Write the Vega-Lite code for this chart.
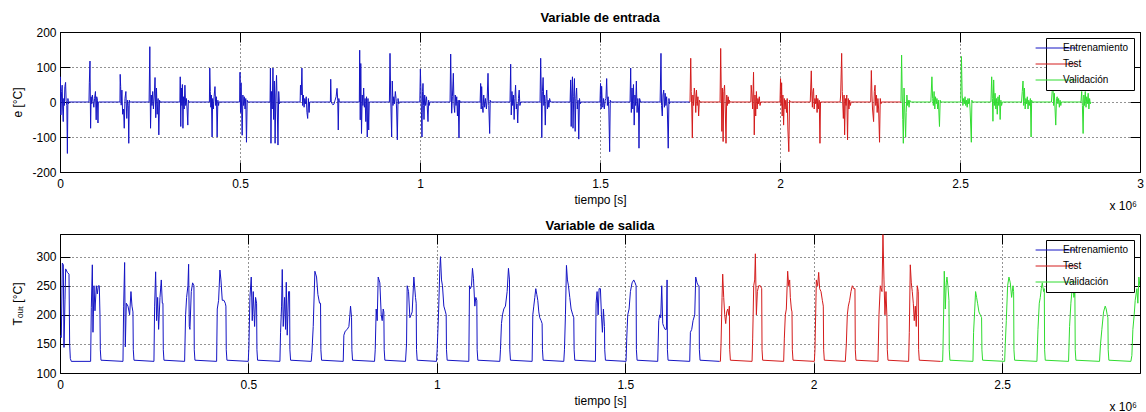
{
"$schema": "https://vega.github.io/schema/vega-lite/v6.json",
"background": "white",
"padding": {"left": 10, "top": 11, "right": 0, "bottom": 0},
"spacing": 62,
"bounds": "flush",
"resolve": {"scale": {"color": "independent"}, "legend": {"color": "independent"}},
"config": {
 "font": "Liberation Sans",
 "view": {"stroke": "#000", "strokeWidth": 1},
 "axis": {"labelFont": "Liberation Sans", "labelFontSize": 12, "labelColor": "#000", "titleFont": "Liberation Sans", "titleFontSize": 12, "titleFontWeight": "normal", "titleColor": "#000", "tickColor": "#000", "tickSize": -10, "tickWidth": 1, "domain": false, "gridColor": "#000", "gridDash": [1, 3], "gridOpacity": 0.85, "gridWidth": 1, "labelFlush": false, "labelOverlap": false, "labelPadding": 14},
 "axisX": {"titlePadding": 5, "labelPadding": 16},
 "axisY": {"titlePadding": 8, "minExtent": 28, "maxExtent": 28},
 "title": {"font": "Liberation Sans", "fontSize": 13, "fontWeight": "bold", "color": "#000", "offset": 1, "anchor": "middle"},
 "legend": {"orient": "top-right", "offset": 6, "strokeColor": "#000", "fillColor": "#fff", "padding": 5, "symbolType": "M-8,0H8", "symbolSize": 26, "symbolStrokeWidth": 1, "symbolOffset": 0, "labelFont": "Liberation Sans", "labelFontSize": 10, "labelColor": "#000", "labelOffset": 2, "rowPadding": 6, "cornerRadius": 0}
},
"datasets": {
"entrada": [
{"t":0,"v":0,"s":"Entrenamiento"},{"t":1000,"v":72,"s":"Entrenamiento"},{"t":2500,"v":-37,"s":"Entrenamiento"},{"t":4500,"v":30,"s":"Entrenamiento"},{"t":6000,"v":48,"s":"Entrenamiento"},{"t":7500,"v":-20,"s":"Entrenamiento"},{"t":9000,"v":-56,"s":"Entrenamiento"},{"t":10500,"v":10,"s":"Entrenamiento"},{"t":12000,"v":-10,"s":"Entrenamiento"},{"t":13500,"v":44,"s":"Entrenamiento"},{"t":15500,"v":56,"s":"Entrenamiento"},{"t":17000,"v":5,"s":"Entrenamiento"},{"t":19000,"v":-10,"s":"Entrenamiento"},{"t":20500,"v":-147,"s":"Entrenamiento"},{"t":22000,"v":10,"s":"Entrenamiento"},{"t":23500,"v":-5,"s":"Entrenamiento"},{"t":25000,"v":0,"s":"Entrenamiento"},
{"t":80500,"v":0,"s":"Entrenamiento"},{"t":81500,"v":55,"s":"Entrenamiento"},{"t":83300,"v":117,"s":"Entrenamiento"},{"t":85000,"v":-75,"s":"Entrenamiento"},{"t":86500,"v":15,"s":"Entrenamiento"},{"t":88000,"v":-5,"s":"Entrenamiento"},{"t":90000,"v":20,"s":"Entrenamiento"},{"t":92000,"v":0,"s":"Entrenamiento"},{"t":94000,"v":-15,"s":"Entrenamiento"},{"t":96000,"v":10,"s":"Entrenamiento"},{"t":98500,"v":30,"s":"Entrenamiento"},{"t":100500,"v":-51,"s":"Entrenamiento"},{"t":102000,"v":15,"s":"Entrenamiento"},{"t":104000,"v":5,"s":"Entrenamiento"},{"t":105500,"v":-60,"s":"Entrenamiento"},{"t":106500,"v":0,"s":"Entrenamiento"},
{"t":166500,"v":0,"s":"Entrenamiento"},{"t":167200,"v":79,"s":"Entrenamiento"},{"t":168500,"v":44,"s":"Entrenamiento"},{"t":170000,"v":-9,"s":"Entrenamiento"},{"t":172000,"v":34,"s":"Entrenamiento"},{"t":174000,"v":-35,"s":"Entrenamiento"},{"t":176500,"v":-20,"s":"Entrenamiento"},{"t":178500,"v":-75,"s":"Entrenamiento"},{"t":180500,"v":10,"s":"Entrenamiento"},{"t":183000,"v":30,"s":"Entrenamiento"},{"t":185500,"v":-47,"s":"Entrenamiento"},{"t":187500,"v":5,"s":"Entrenamiento"},{"t":189500,"v":-10,"s":"Entrenamiento"},{"t":191000,"v":-118,"s":"Entrenamiento"},{"t":192500,"v":5,"s":"Entrenamiento"},{"t":193500,"v":0,"s":"Entrenamiento"},
{"t":247500,"v":0,"s":"Entrenamiento"},{"t":249500,"v":158,"s":"Entrenamiento"},{"t":251500,"v":-75,"s":"Entrenamiento"},{"t":253500,"v":20,"s":"Entrenamiento"},{"t":255500,"v":-10,"s":"Entrenamiento"},{"t":257500,"v":30,"s":"Entrenamiento"},{"t":259500,"v":-20,"s":"Entrenamiento"},{"t":262000,"v":20,"s":"Entrenamiento"},{"t":264000,"v":70,"s":"Entrenamiento"},{"t":266000,"v":-45,"s":"Entrenamiento"},{"t":268000,"v":40,"s":"Entrenamiento"},{"t":270000,"v":-35,"s":"Entrenamiento"},{"t":272500,"v":10,"s":"Entrenamiento"},{"t":274500,"v":-94,"s":"Entrenamiento"},{"t":276500,"v":5,"s":"Entrenamiento"},{"t":278000,"v":0,"s":"Entrenamiento"},
{"t":333000,"v":0,"s":"Entrenamiento"},{"t":334000,"v":72,"s":"Entrenamiento"},{"t":335500,"v":-70,"s":"Entrenamiento"},{"t":337000,"v":40,"s":"Entrenamiento"},{"t":338500,"v":-10,"s":"Entrenamiento"},{"t":340000,"v":50,"s":"Entrenamiento"},{"t":341500,"v":-75,"s":"Entrenamiento"},{"t":343000,"v":15,"s":"Entrenamiento"},{"t":345000,"v":-20,"s":"Entrenamiento"},{"t":347000,"v":48,"s":"Entrenamiento"},{"t":349000,"v":-10,"s":"Entrenamiento"},{"t":351000,"v":10,"s":"Entrenamiento"},{"t":353000,"v":-20,"s":"Entrenamiento"},{"t":355000,"v":-66,"s":"Entrenamiento"},{"t":356500,"v":5,"s":"Entrenamiento"},{"t":358000,"v":0,"s":"Entrenamiento"},
{"t":415000,"v":0,"s":"Entrenamiento"},{"t":416000,"v":97,"s":"Entrenamiento"},{"t":417500,"v":30,"s":"Entrenamiento"},{"t":419000,"v":-15,"s":"Entrenamiento"},{"t":420500,"v":20,"s":"Entrenamiento"},{"t":422500,"v":-100,"s":"Entrenamiento"},{"t":424000,"v":10,"s":"Entrenamiento"},{"t":426000,"v":-20,"s":"Entrenamiento"},{"t":428000,"v":15,"s":"Entrenamiento"},{"t":430500,"v":44,"s":"Entrenamiento"},{"t":432500,"v":-10,"s":"Entrenamiento"},{"t":434500,"v":15,"s":"Entrenamiento"},{"t":436500,"v":-100,"s":"Entrenamiento"},{"t":438500,"v":5,"s":"Entrenamiento"},{"t":440500,"v":-10,"s":"Entrenamiento"},{"t":441700,"v":0,"s":"Entrenamiento"},
{"t":499000,"v":0,"s":"Entrenamiento"},{"t":500000,"v":85,"s":"Entrenamiento"},{"t":501500,"v":-30,"s":"Entrenamiento"},{"t":503000,"v":55,"s":"Entrenamiento"},{"t":504500,"v":-20,"s":"Entrenamiento"},{"t":506000,"v":-95,"s":"Entrenamiento"},{"t":508000,"v":20,"s":"Entrenamiento"},{"t":510000,"v":-10,"s":"Entrenamiento"},{"t":512000,"v":15,"s":"Entrenamiento"},{"t":514000,"v":-20,"s":"Entrenamiento"},{"t":516000,"v":10,"s":"Entrenamiento"},{"t":518000,"v":-115,"s":"Entrenamiento"},{"t":520000,"v":5,"s":"Entrenamiento"},{"t":521500,"v":0,"s":"Entrenamiento"},
{"t":583500,"v":0,"s":"Entrenamiento"},{"t":584500,"v":97,"s":"Entrenamiento"},{"t":586000,"v":-118,"s":"Entrenamiento"},{"t":587500,"v":30,"s":"Entrenamiento"},{"t":589500,"v":-20,"s":"Entrenamiento"},{"t":591500,"v":97,"s":"Entrenamiento"},{"t":593500,"v":-50,"s":"Entrenamiento"},{"t":595500,"v":60,"s":"Entrenamiento"},{"t":597500,"v":-118,"s":"Entrenamiento"},{"t":599500,"v":20,"s":"Entrenamiento"},{"t":601500,"v":76,"s":"Entrenamiento"},{"t":603500,"v":-20,"s":"Entrenamiento"},{"t":605500,"v":-123,"s":"Entrenamiento"},{"t":607500,"v":30,"s":"Entrenamiento"},{"t":609500,"v":-5,"s":"Entrenamiento"},{"t":611000,"v":0,"s":"Entrenamiento"},
{"t":667000,"v":0,"s":"Entrenamiento"},{"t":668000,"v":48,"s":"Entrenamiento"},{"t":670000,"v":20,"s":"Entrenamiento"},{"t":672000,"v":97,"s":"Entrenamiento"},{"t":674000,"v":-10,"s":"Entrenamiento"},{"t":676000,"v":20,"s":"Entrenamiento"},{"t":678000,"v":-15,"s":"Entrenamiento"},{"t":680000,"v":10,"s":"Entrenamiento"},{"t":682000,"v":-5,"s":"Entrenamiento"},{"t":684000,"v":15,"s":"Entrenamiento"},{"t":686000,"v":-30,"s":"Entrenamiento"},{"t":688000,"v":-47,"s":"Entrenamiento"},{"t":690000,"v":10,"s":"Entrenamiento"},{"t":692000,"v":-30,"s":"Entrenamiento"},{"t":693500,"v":0,"s":"Entrenamiento"},
{"t":751000,"v":0,"s":"Entrenamiento"},{"t":752000,"v":65,"s":"Entrenamiento"},{"t":753500,"v":0,"s":"Entrenamiento"},{"t":755500,"v":-4,"s":"Entrenamiento"},{"t":758000,"v":-8,"s":"Entrenamiento"},{"t":761000,"v":-6,"s":"Entrenamiento"},{"t":764000,"v":5,"s":"Entrenamiento"},{"t":767000,"v":15,"s":"Entrenamiento"},{"t":769500,"v":39,"s":"Entrenamiento"},{"t":771500,"v":5,"s":"Entrenamiento"},{"t":773000,"v":-80,"s":"Entrenamiento"},{"t":774500,"v":10,"s":"Entrenamiento"},{"t":775500,"v":0,"s":"Entrenamiento"},
{"t":831500,"v":0,"s":"Entrenamiento"},{"t":832500,"v":148,"s":"Entrenamiento"},{"t":834000,"v":-51,"s":"Entrenamiento"},{"t":835500,"v":110,"s":"Entrenamiento"},{"t":837500,"v":-90,"s":"Entrenamiento"},{"t":839500,"v":20,"s":"Entrenamiento"},{"t":841500,"v":-10,"s":"Entrenamiento"},{"t":843500,"v":40,"s":"Entrenamiento"},{"t":845500,"v":-15,"s":"Entrenamiento"},{"t":847500,"v":10,"s":"Entrenamiento"},{"t":849500,"v":-56,"s":"Entrenamiento"},{"t":851500,"v":15,"s":"Entrenamiento"},{"t":853500,"v":-100,"s":"Entrenamiento"},{"t":855500,"v":10,"s":"Entrenamiento"},{"t":857500,"v":-80,"s":"Entrenamiento"},{"t":859000,"v":0,"s":"Entrenamiento"},
{"t":915000,"v":0,"s":"Entrenamiento"},{"t":916700,"v":139,"s":"Entrenamiento"},{"t":918500,"v":20,"s":"Entrenamiento"},{"t":921300,"v":-100,"s":"Entrenamiento"},{"t":923000,"v":60,"s":"Entrenamiento"},{"t":925000,"v":-10,"s":"Entrenamiento"},{"t":927000,"v":15,"s":"Entrenamiento"},{"t":929000,"v":-5,"s":"Entrenamiento"},{"t":931500,"v":30,"s":"Entrenamiento"},{"t":933500,"v":10,"s":"Entrenamiento"},{"t":935000,"v":-20,"s":"Entrenamiento"},{"t":937000,"v":-108,"s":"Entrenamiento"},{"t":939000,"v":10,"s":"Entrenamiento"},{"t":941000,"v":-5,"s":"Entrenamiento"},{"t":942500,"v":0,"s":"Entrenamiento"},
{"t":999500,"v":0,"s":"Entrenamiento"},{"t":1001000,"v":94,"s":"Entrenamiento"},{"t":1002500,"v":40,"s":"Entrenamiento"},{"t":1004000,"v":-30,"s":"Entrenamiento"},{"t":1005500,"v":-100,"s":"Entrenamiento"},{"t":1007000,"v":30,"s":"Entrenamiento"},{"t":1008300,"v":53,"s":"Entrenamiento"},{"t":1010000,"v":-10,"s":"Entrenamiento"},{"t":1011100,"v":-50,"s":"Entrenamiento"},{"t":1013000,"v":20,"s":"Entrenamiento"},{"t":1015700,"v":-10,"s":"Entrenamiento"},{"t":1018000,"v":15,"s":"Entrenamiento"},{"t":1020000,"v":-10,"s":"Entrenamiento"},{"t":1022200,"v":-56,"s":"Entrenamiento"},{"t":1024000,"v":5,"s":"Entrenamiento"},{"t":1025500,"v":-10,"s":"Entrenamiento"},{"t":1027500,"v":0,"s":"Entrenamiento"},
{"t":1083500,"v":0,"s":"Entrenamiento"},{"t":1085200,"v":137,"s":"Entrenamiento"},{"t":1087000,"v":20,"s":"Entrenamiento"},{"t":1088000,"v":-32,"s":"Entrenamiento"},{"t":1090000,"v":15,"s":"Entrenamiento"},{"t":1092600,"v":82,"s":"Entrenamiento"},{"t":1094500,"v":-10,"s":"Entrenamiento"},{"t":1096300,"v":-30,"s":"Entrenamiento"},{"t":1098000,"v":20,"s":"Entrenamiento"},{"t":1100000,"v":-10,"s":"Entrenamiento"},{"t":1102000,"v":15,"s":"Entrenamiento"},{"t":1104000,"v":-40,"s":"Entrenamiento"},{"t":1106000,"v":5,"s":"Entrenamiento"},{"t":1108300,"v":-103,"s":"Entrenamiento"},{"t":1110000,"v":5,"s":"Entrenamiento"},{"t":1111000,"v":0,"s":"Entrenamiento"},
{"t":1167000,"v":0,"s":"Entrenamiento"},{"t":1168500,"v":53,"s":"Entrenamiento"},{"t":1170000,"v":-20,"s":"Entrenamiento"},{"t":1171300,"v":44,"s":"Entrenamiento"},{"t":1173000,"v":-10,"s":"Entrenamiento"},{"t":1175000,"v":-30,"s":"Entrenamiento"},{"t":1177000,"v":20,"s":"Entrenamiento"},{"t":1179600,"v":-15,"s":"Entrenamiento"},{"t":1182000,"v":10,"s":"Entrenamiento"},{"t":1184500,"v":-20,"s":"Entrenamiento"},{"t":1186500,"v":5,"s":"Entrenamiento"},{"t":1188900,"v":82,"s":"Entrenamiento"},{"t":1191000,"v":-10,"s":"Entrenamiento"},{"t":1193500,"v":-90,"s":"Entrenamiento"},{"t":1195000,"v":5,"s":"Entrenamiento"},{"t":1196500,"v":0,"s":"Entrenamiento"},
{"t":1250000,"v":0,"s":"Entrenamiento"},{"t":1251900,"v":108,"s":"Entrenamiento"},{"t":1253500,"v":-37,"s":"Entrenamiento"},{"t":1255500,"v":30,"s":"Entrenamiento"},{"t":1257500,"v":-10,"s":"Entrenamiento"},{"t":1259500,"v":20,"s":"Entrenamiento"},{"t":1261500,"v":-50,"s":"Entrenamiento"},{"t":1263500,"v":10,"s":"Entrenamiento"},{"t":1265500,"v":48,"s":"Entrenamiento"},{"t":1267500,"v":-20,"s":"Entrenamiento"},{"t":1269500,"v":-5,"s":"Entrenamiento"},{"t":1271500,"v":-60,"s":"Entrenamiento"},{"t":1273500,"v":10,"s":"Entrenamiento"},{"t":1275500,"v":34,"s":"Entrenamiento"},{"t":1277500,"v":-10,"s":"Entrenamiento"},{"t":1279500,"v":0,"s":"Entrenamiento"},
{"t":1333500,"v":0,"s":"Entrenamiento"},{"t":1335200,"v":125,"s":"Entrenamiento"},{"t":1337000,"v":20,"s":"Entrenamiento"},{"t":1338300,"v":-102,"s":"Entrenamiento"},{"t":1340000,"v":30,"s":"Entrenamiento"},{"t":1342000,"v":70,"s":"Entrenamiento"},{"t":1344000,"v":-10,"s":"Entrenamiento"},{"t":1346000,"v":20,"s":"Entrenamiento"},{"t":1348000,"v":-66,"s":"Entrenamiento"},{"t":1350000,"v":10,"s":"Entrenamiento"},{"t":1352000,"v":34,"s":"Entrenamiento"},{"t":1354000,"v":-20,"s":"Entrenamiento"},{"t":1356000,"v":5,"s":"Entrenamiento"},{"t":1358000,"v":-15,"s":"Entrenamiento"},{"t":1360000,"v":10,"s":"Entrenamiento"},{"t":1362500,"v":0,"s":"Entrenamiento"},
{"t":1417000,"v":0,"s":"Entrenamiento"},{"t":1418500,"v":63,"s":"Entrenamiento"},{"t":1420000,"v":-70,"s":"Entrenamiento"},{"t":1421500,"v":20,"s":"Entrenamiento"},{"t":1423500,"v":72,"s":"Entrenamiento"},{"t":1425000,"v":-75,"s":"Entrenamiento"},{"t":1427000,"v":15,"s":"Entrenamiento"},{"t":1429000,"v":67,"s":"Entrenamiento"},{"t":1431000,"v":-84,"s":"Entrenamiento"},{"t":1433000,"v":10,"s":"Entrenamiento"},{"t":1435000,"v":40,"s":"Entrenamiento"},{"t":1437000,"v":-20,"s":"Entrenamiento"},{"t":1439000,"v":5,"s":"Entrenamiento"},{"t":1441000,"v":-106,"s":"Entrenamiento"},{"t":1443000,"v":10,"s":"Entrenamiento"},{"t":1445000,"v":-5,"s":"Entrenamiento"},{"t":1446500,"v":0,"s":"Entrenamiento"},
{"t":1500000,"v":0,"s":"Entrenamiento"},{"t":1501500,"v":53,"s":"Entrenamiento"},{"t":1503000,"v":-20,"s":"Entrenamiento"},{"t":1504600,"v":45,"s":"Entrenamiento"},{"t":1506500,"v":-10,"s":"Entrenamiento"},{"t":1508000,"v":-15,"s":"Entrenamiento"},{"t":1510000,"v":10,"s":"Entrenamiento"},{"t":1512000,"v":-20,"s":"Entrenamiento"},{"t":1514500,"v":5,"s":"Entrenamiento"},{"t":1516500,"v":10,"s":"Entrenamiento"},{"t":1518500,"v":67,"s":"Entrenamiento"},{"t":1520500,"v":-10,"s":"Entrenamiento"},{"t":1522500,"v":15,"s":"Entrenamiento"},{"t":1524500,"v":-20,"s":"Entrenamiento"},{"t":1526800,"v":-142,"s":"Entrenamiento"},{"t":1528500,"v":5,"s":"Entrenamiento"},{"t":1530000,"v":0,"s":"Entrenamiento"},
{"t":1583500,"v":0,"s":"Entrenamiento"},{"t":1585200,"v":97,"s":"Entrenamiento"},{"t":1587000,"v":-30,"s":"Entrenamiento"},{"t":1589000,"v":40,"s":"Entrenamiento"},{"t":1591000,"v":-20,"s":"Entrenamiento"},{"t":1593000,"v":50,"s":"Entrenamiento"},{"t":1595000,"v":-66,"s":"Entrenamiento"},{"t":1597000,"v":20,"s":"Entrenamiento"},{"t":1599000,"v":-10,"s":"Entrenamiento"},{"t":1601000,"v":60,"s":"Entrenamiento"},{"t":1603000,"v":-30,"s":"Entrenamiento"},{"t":1605000,"v":10,"s":"Entrenamiento"},{"t":1607000,"v":-20,"s":"Entrenamiento"},{"t":1608300,"v":-132,"s":"Entrenamiento"},{"t":1610000,"v":10,"s":"Entrenamiento"},{"t":1612500,"v":0,"s":"Entrenamiento"},
{"t":1667000,"v":0,"s":"Entrenamiento"},{"t":1669400,"v":139,"s":"Entrenamiento"},{"t":1671000,"v":-10,"s":"Entrenamiento"},{"t":1673000,"v":-40,"s":"Entrenamiento"},{"t":1675000,"v":20,"s":"Entrenamiento"},{"t":1677000,"v":34,"s":"Entrenamiento"},{"t":1679000,"v":-15,"s":"Entrenamiento"},{"t":1681000,"v":25,"s":"Entrenamiento"},{"t":1683000,"v":-10,"s":"Entrenamiento"},{"t":1685000,"v":15,"s":"Entrenamiento"},{"t":1687000,"v":-20,"s":"Entrenamiento"},{"t":1689500,"v":-132,"s":"Entrenamiento"},{"t":1691500,"v":10,"s":"Entrenamiento"},{"t":1693000,"v":-5,"s":"Entrenamiento"},{"t":1694500,"v":0,"s":"Entrenamiento"},{"t":1750000,"v":0,"s":"Entrenamiento"},
{"t":1750000,"v":0,"s":"Test"},{"t":1752000,"v":125,"s":"Test"},{"t":1753500,"v":30,"s":"Test"},{"t":1755000,"v":-20,"s":"Test"},{"t":1756500,"v":-103,"s":"Test"},{"t":1758000,"v":20,"s":"Test"},{"t":1760000,"v":-10,"s":"Test"},{"t":1762000,"v":40,"s":"Test"},{"t":1764000,"v":20,"s":"Test"},{"t":1766000,"v":-30,"s":"Test"},{"t":1768000,"v":34,"s":"Test"},{"t":1770000,"v":-10,"s":"Test"},{"t":1772000,"v":15,"s":"Test"},{"t":1774000,"v":-40,"s":"Test"},{"t":1776000,"v":5,"s":"Test"},{"t":1777800,"v":0,"s":"Test"},
{"t":1833500,"v":0,"s":"Test"},{"t":1835200,"v":153,"s":"Test"},{"t":1837000,"v":20,"s":"Test"},{"t":1838500,"v":-84,"s":"Test"},{"t":1840000,"v":40,"s":"Test"},{"t":1842000,"v":-113,"s":"Test"},{"t":1844000,"v":30,"s":"Test"},{"t":1846000,"v":48,"s":"Test"},{"t":1848000,"v":-20,"s":"Test"},{"t":1850000,"v":-118,"s":"Test"},{"t":1852000,"v":20,"s":"Test"},{"t":1854000,"v":-10,"s":"Test"},{"t":1856000,"v":15,"s":"Test"},{"t":1858000,"v":-5,"s":"Test"},{"t":1859500,"v":5,"s":"Test"},{"t":1861000,"v":0,"s":"Test"},
{"t":1919000,"v":0,"s":"Test"},{"t":1920000,"v":48,"s":"Test"},{"t":1922000,"v":20,"s":"Test"},{"t":1924000,"v":-20,"s":"Test"},{"t":1926500,"v":85,"s":"Test"},{"t":1928500,"v":-94,"s":"Test"},{"t":1930500,"v":20,"s":"Test"},{"t":1932500,"v":-40,"s":"Test"},{"t":1934500,"v":30,"s":"Test"},{"t":1936500,"v":-20,"s":"Test"},{"t":1938500,"v":10,"s":"Test"},{"t":1940500,"v":-5,"s":"Test"},{"t":1942500,"v":15,"s":"Test"},{"t":1944500,"v":-10,"s":"Test"},{"t":1946300,"v":0,"s":"Test"},
{"t":2000000,"v":0,"s":"Test"},{"t":2001500,"v":67,"s":"Test"},{"t":2003000,"v":-10,"s":"Test"},{"t":2004500,"v":55,"s":"Test"},{"t":2006000,"v":-40,"s":"Test"},{"t":2008000,"v":20,"s":"Test"},{"t":2010000,"v":-66,"s":"Test"},{"t":2012000,"v":10,"s":"Test"},{"t":2014000,"v":-20,"s":"Test"},{"t":2016000,"v":5,"s":"Test"},{"t":2018000,"v":-30,"s":"Test"},{"t":2020000,"v":10,"s":"Test"},{"t":2022000,"v":-80,"s":"Test"},{"t":2024500,"v":-142,"s":"Test"},{"t":2026500,"v":5,"s":"Test"},{"t":2028500,"v":0,"s":"Test"},
{"t":2084000,"v":0,"s":"Test"},{"t":2086900,"v":89,"s":"Test"},{"t":2088500,"v":20,"s":"Test"},{"t":2090000,"v":-15,"s":"Test"},{"t":2091500,"v":30,"s":"Test"},{"t":2093200,"v":39,"s":"Test"},{"t":2095000,"v":-20,"s":"Test"},{"t":2097000,"v":10,"s":"Test"},{"t":2099000,"v":-5,"s":"Test"},{"t":2101000,"v":20,"s":"Test"},{"t":2103000,"v":-30,"s":"Test"},{"t":2105000,"v":10,"s":"Test"},{"t":2107000,"v":-20,"s":"Test"},{"t":2109000,"v":5,"s":"Test"},{"t":2111000,"v":-118,"s":"Test"},{"t":2112500,"v":0,"s":"Test"},
{"t":2167000,"v":0,"s":"Test"},{"t":2168500,"v":20,"s":"Test"},{"t":2171300,"v":139,"s":"Test"},{"t":2173000,"v":30,"s":"Test"},{"t":2176000,"v":-47,"s":"Test"},{"t":2178000,"v":20,"s":"Test"},{"t":2179500,"v":-94,"s":"Test"},{"t":2181500,"v":10,"s":"Test"},{"t":2183500,"v":-10,"s":"Test"},{"t":2185500,"v":20,"s":"Test"},{"t":2187600,"v":-108,"s":"Test"},{"t":2189500,"v":10,"s":"Test"},{"t":2191500,"v":-20,"s":"Test"},{"t":2193500,"v":5,"s":"Test"},{"t":2195500,"v":-10,"s":"Test"},{"t":2197500,"v":0,"s":"Test"},
{"t":2252000,"v":0,"s":"Test"},{"t":2253700,"v":90,"s":"Test"},{"t":2255500,"v":20,"s":"Test"},{"t":2257000,"v":-20,"s":"Test"},{"t":2260000,"v":-56,"s":"Test"},{"t":2262000,"v":30,"s":"Test"},{"t":2264000,"v":48,"s":"Test"},{"t":2266000,"v":-10,"s":"Test"},{"t":2268000,"v":20,"s":"Test"},{"t":2270000,"v":-30,"s":"Test"},{"t":2272000,"v":10,"s":"Test"},{"t":2274000,"v":-20,"s":"Test"},{"t":2276500,"v":-115,"s":"Test"},{"t":2278500,"v":10,"s":"Test"},{"t":2280500,"v":-5,"s":"Test"},{"t":2281800,"v":0,"s":"Test"},{"t":2336000,"v":0,"s":"Test"},
{"t":2336000,"v":0,"s":"Validación"},{"t":2337800,"v":134,"s":"Validación"},{"t":2339500,"v":20,"s":"Validación"},{"t":2341000,"v":-50,"s":"Validación"},{"t":2342600,"v":-118,"s":"Validación"},{"t":2344500,"v":40,"s":"Validación"},{"t":2346500,"v":-20,"s":"Validación"},{"t":2349000,"v":-100,"s":"Validación"},{"t":2350500,"v":-30,"s":"Validación"},{"t":2352500,"v":20,"s":"Validación"},{"t":2354500,"v":-10,"s":"Validación"},{"t":2356500,"v":5,"s":"Validación"},{"t":2358500,"v":-15,"s":"Validación"},{"t":2360500,"v":5,"s":"Validación"},{"t":2362500,"v":0,"s":"Validación"},
{"t":2419000,"v":0,"s":"Validación"},{"t":2422000,"v":72,"s":"Validación"},{"t":2424000,"v":10,"s":"Validación"},{"t":2426000,"v":-10,"s":"Validación"},{"t":2428000,"v":30,"s":"Validación"},{"t":2430000,"v":-20,"s":"Validación"},{"t":2432000,"v":15,"s":"Validación"},{"t":2434000,"v":-5,"s":"Validación"},{"t":2436000,"v":10,"s":"Validación"},{"t":2438000,"v":-20,"s":"Validación"},{"t":2440000,"v":5,"s":"Validación"},{"t":2443000,"v":-70,"s":"Validación"},{"t":2445000,"v":5,"s":"Validación"},{"t":2446500,"v":0,"s":"Validación"},
{"t":2502000,"v":0,"s":"Validación"},{"t":2504000,"v":130,"s":"Validación"},{"t":2506000,"v":20,"s":"Validación"},{"t":2508000,"v":-10,"s":"Validación"},{"t":2510000,"v":10,"s":"Validación"},{"t":2512000,"v":-5,"s":"Validación"},{"t":2514000,"v":15,"s":"Validación"},{"t":2516000,"v":-10,"s":"Validación"},{"t":2518000,"v":5,"s":"Validación"},{"t":2520000,"v":-15,"s":"Validación"},{"t":2522000,"v":10,"s":"Validación"},{"t":2524000,"v":-5,"s":"Validación"},{"t":2526000,"v":10,"s":"Validación"},{"t":2528000,"v":-20,"s":"Validación"},{"t":2531500,"v":-115,"s":"Validación"},{"t":2533000,"v":5,"s":"Validación"},{"t":2534500,"v":0,"s":"Validación"},
{"t":2586000,"v":0,"s":"Validación"},{"t":2588000,"v":72,"s":"Validación"},{"t":2590000,"v":10,"s":"Validación"},{"t":2591500,"v":-55,"s":"Validación"},{"t":2593500,"v":63,"s":"Validación"},{"t":2595500,"v":-10,"s":"Validación"},{"t":2597500,"v":25,"s":"Validación"},{"t":2599500,"v":-20,"s":"Validación"},{"t":2601500,"v":10,"s":"Validación"},{"t":2603500,"v":-35,"s":"Validación"},{"t":2605500,"v":15,"s":"Validación"},{"t":2607500,"v":-10,"s":"Validación"},{"t":2609500,"v":20,"s":"Validación"},{"t":2611500,"v":-50,"s":"Validación"},{"t":2613500,"v":5,"s":"Validación"},{"t":2615500,"v":-10,"s":"Validación"},{"t":2617500,"v":0,"s":"Validación"},
{"t":2671000,"v":0,"s":"Validación"},{"t":2673000,"v":30,"s":"Validación"},{"t":2675000,"v":60,"s":"Validación"},{"t":2677000,"v":-10,"s":"Validación"},{"t":2679000,"v":40,"s":"Validación"},{"t":2681000,"v":-20,"s":"Validación"},{"t":2683000,"v":10,"s":"Validación"},{"t":2685000,"v":-5,"s":"Validación"},{"t":2687000,"v":15,"s":"Validación"},{"t":2689000,"v":-20,"s":"Validación"},{"t":2691000,"v":5,"s":"Validación"},{"t":2693500,"v":-10,"s":"Validación"},{"t":2695500,"v":10,"s":"Validación"},{"t":2697500,"v":-100,"s":"Validación"},{"t":2699000,"v":5,"s":"Validación"},{"t":2700500,"v":0,"s":"Validación"},
{"t":2754000,"v":0,"s":"Validación"},{"t":2756000,"v":30,"s":"Validación"},{"t":2758000,"v":55,"s":"Validación"},{"t":2760000,"v":-10,"s":"Validación"},{"t":2762000,"v":25,"s":"Validación"},{"t":2764000,"v":-20,"s":"Validación"},{"t":2766000,"v":-66,"s":"Validación"},{"t":2768000,"v":10,"s":"Validación"},{"t":2770000,"v":15,"s":"Validación"},{"t":2772000,"v":-5,"s":"Validación"},{"t":2774000,"v":10,"s":"Validación"},{"t":2776000,"v":-15,"s":"Validación"},{"t":2778000,"v":5,"s":"Validación"},{"t":2780000,"v":-10,"s":"Validación"},{"t":2781500,"v":0,"s":"Validación"},
{"t":2836000,"v":0,"s":"Validación"},{"t":2838000,"v":30,"s":"Validación"},{"t":2840000,"v":-10,"s":"Validación"},{"t":2842000,"v":-90,"s":"Validación"},{"t":2844000,"v":20,"s":"Validación"},{"t":2846000,"v":-10,"s":"Validación"},{"t":2848000,"v":30,"s":"Validación"},{"t":2850000,"v":-15,"s":"Validación"},{"t":2852000,"v":15,"s":"Validación"},{"t":2854000,"v":-5,"s":"Validación"},{"t":2856000,"v":25,"s":"Validación"},{"t":2858000,"v":-20,"s":"Validación"},{"t":2860000,"v":10,"s":"Validación"},{"t":2862000,"v":-5,"s":"Validación"},{"t":2864000,"v":0,"s":"Validación"}
],
"salida": [
{"t":0,"v":165,"s":"Entrenamiento"},{"t":3500,"v":161,"s":"Entrenamiento"},{"t":6200,"v":289,"s":"Entrenamiento"},{"t":8800,"v":286,"s":"Entrenamiento"},{"t":10600,"v":144,"s":"Entrenamiento"},{"t":13300,"v":227,"s":"Entrenamiento"},{"t":15000,"v":279,"s":"Entrenamiento"},{"t":19500,"v":273,"s":"Entrenamiento"},{"t":23900,"v":270,"s":"Entrenamiento"},{"t":25600,"v":150,"s":"Entrenamiento"},{"t":27400,"v":125,"s":"Entrenamiento"},{"t":30000,"v":120,"s":"Entrenamiento"},
{"t":81300,"v":120,"s":"Entrenamiento"},{"t":83100,"v":213,"s":"Entrenamiento"},{"t":85800,"v":286,"s":"Entrenamiento"},{"t":87500,"v":170,"s":"Entrenamiento"},{"t":90200,"v":250,"s":"Entrenamiento"},{"t":92800,"v":207,"s":"Entrenamiento"},{"t":96400,"v":250,"s":"Entrenamiento"},{"t":99000,"v":236,"s":"Entrenamiento"},{"t":101700,"v":250,"s":"Entrenamiento"},{"t":104300,"v":250,"s":"Entrenamiento"},{"t":106100,"v":200,"s":"Entrenamiento"},{"t":107000,"v":140,"s":"Entrenamiento"},{"t":108800,"v":122,"s":"Entrenamiento"},
{"t":167100,"v":120,"s":"Entrenamiento"},{"t":168900,"v":215,"s":"Entrenamiento"},{"t":171500,"v":290,"s":"Entrenamiento"},{"t":173300,"v":145,"s":"Entrenamiento"},{"t":176000,"v":220,"s":"Entrenamiento"},{"t":180400,"v":215,"s":"Entrenamiento"},{"t":184800,"v":200,"s":"Entrenamiento"},{"t":188300,"v":240,"s":"Entrenamiento"},{"t":191000,"v":215,"s":"Entrenamiento"},{"t":193600,"v":205,"s":"Entrenamiento"},{"t":194500,"v":140,"s":"Entrenamiento"},{"t":196300,"v":122,"s":"Entrenamiento"},
{"t":249300,"v":120,"s":"Entrenamiento"},{"t":251100,"v":215,"s":"Entrenamiento"},{"t":253800,"v":274,"s":"Entrenamiento"},{"t":256400,"v":190,"s":"Entrenamiento"},{"t":259100,"v":230,"s":"Entrenamiento"},{"t":261700,"v":175,"s":"Entrenamiento"},{"t":265300,"v":230,"s":"Entrenamiento"},{"t":268800,"v":260,"s":"Entrenamiento"},{"t":271500,"v":220,"s":"Entrenamiento"},{"t":273200,"v":220,"s":"Entrenamiento"},{"t":274100,"v":140,"s":"Entrenamiento"},{"t":275900,"v":122,"s":"Entrenamiento"},
{"t":330700,"v":120,"s":"Entrenamiento"},{"t":333300,"v":200,"s":"Entrenamiento"},{"t":336000,"v":230,"s":"Entrenamiento"},{"t":339500,"v":250,"s":"Entrenamiento"},{"t":341300,"v":287,"s":"Entrenamiento"},{"t":343100,"v":180,"s":"Entrenamiento"},{"t":344800,"v":175,"s":"Entrenamiento"},{"t":348400,"v":240,"s":"Entrenamiento"},{"t":351900,"v":255,"s":"Entrenamiento"},{"t":355400,"v":250,"s":"Entrenamiento"},{"t":356300,"v":140,"s":"Entrenamiento"},{"t":358100,"v":122,"s":"Entrenamiento"},
{"t":415600,"v":120,"s":"Entrenamiento"},{"t":417300,"v":210,"s":"Entrenamiento"},{"t":420900,"v":225,"s":"Entrenamiento"},{"t":424400,"v":277,"s":"Entrenamiento"},{"t":427100,"v":260,"s":"Entrenamiento"},{"t":430600,"v":225,"s":"Entrenamiento"},{"t":435000,"v":225,"s":"Entrenamiento"},{"t":438600,"v":220,"s":"Entrenamiento"},{"t":440300,"v":215,"s":"Entrenamiento"},{"t":441200,"v":140,"s":"Entrenamiento"},{"t":443000,"v":122,"s":"Entrenamiento"},
{"t":499600,"v":120,"s":"Entrenamiento"},{"t":501300,"v":145,"s":"Entrenamiento"},{"t":504000,"v":230,"s":"Entrenamiento"},{"t":507500,"v":265,"s":"Entrenamiento"},{"t":510200,"v":190,"s":"Entrenamiento"},{"t":512800,"v":240,"s":"Entrenamiento"},{"t":516400,"v":180,"s":"Entrenamiento"},{"t":519000,"v":230,"s":"Entrenamiento"},{"t":521700,"v":220,"s":"Entrenamiento"},{"t":522600,"v":140,"s":"Entrenamiento"},{"t":524300,"v":122,"s":"Entrenamiento"},
{"t":583600,"v":120,"s":"Entrenamiento"},{"t":585300,"v":170,"s":"Entrenamiento"},{"t":588000,"v":215,"s":"Entrenamiento"},{"t":589800,"v":278,"s":"Entrenamiento"},{"t":592400,"v":180,"s":"Entrenamiento"},{"t":596000,"v":230,"s":"Entrenamiento"},{"t":598600,"v":175,"s":"Entrenamiento"},{"t":600400,"v":256,"s":"Entrenamiento"},{"t":603000,"v":165,"s":"Entrenamiento"},{"t":606600,"v":240,"s":"Entrenamiento"},{"t":609200,"v":240,"s":"Entrenamiento"},{"t":610100,"v":140,"s":"Entrenamiento"},{"t":611900,"v":122,"s":"Entrenamiento"},
{"t":666700,"v":120,"s":"Entrenamiento"},{"t":668500,"v":135,"s":"Entrenamiento"},{"t":672000,"v":180,"s":"Entrenamiento"},{"t":676400,"v":275,"s":"Entrenamiento"},{"t":680800,"v":265,"s":"Entrenamiento"},{"t":684400,"v":235,"s":"Entrenamiento"},{"t":688800,"v":220,"s":"Entrenamiento"},{"t":691400,"v":220,"s":"Entrenamiento"},{"t":692300,"v":140,"s":"Entrenamiento"},{"t":694100,"v":122,"s":"Entrenamiento"},
{"t":751600,"v":120,"s":"Entrenamiento"},{"t":753300,"v":165,"s":"Entrenamiento"},{"t":756900,"v":172,"s":"Entrenamiento"},{"t":762200,"v":175,"s":"Entrenamiento"},{"t":766600,"v":180,"s":"Entrenamiento"},{"t":769300,"v":200,"s":"Entrenamiento"},{"t":771000,"v":215,"s":"Entrenamiento"},{"t":773700,"v":195,"s":"Entrenamiento"},{"t":774600,"v":140,"s":"Entrenamiento"},{"t":776300,"v":122,"s":"Entrenamiento"},
{"t":834700,"v":120,"s":"Entrenamiento"},{"t":836500,"v":140,"s":"Entrenamiento"},{"t":839100,"v":210,"s":"Entrenamiento"},{"t":841800,"v":190,"s":"Entrenamiento"},{"t":844400,"v":265,"s":"Entrenamiento"},{"t":848800,"v":255,"s":"Entrenamiento"},{"t":852400,"v":200,"s":"Entrenamiento"},{"t":855000,"v":190,"s":"Entrenamiento"},{"t":857700,"v":210,"s":"Entrenamiento"},{"t":859400,"v":205,"s":"Entrenamiento"},{"t":860300,"v":140,"s":"Entrenamiento"},{"t":862100,"v":122,"s":"Entrenamiento"},
{"t":916900,"v":120,"s":"Entrenamiento"},{"t":919600,"v":150,"s":"Entrenamiento"},{"t":921300,"v":250,"s":"Entrenamiento"},{"t":924900,"v":240,"s":"Entrenamiento"},{"t":928400,"v":195,"s":"Entrenamiento"},{"t":931900,"v":200,"s":"Entrenamiento"},{"t":934600,"v":205,"s":"Entrenamiento"},{"t":939000,"v":265,"s":"Entrenamiento"},{"t":943400,"v":230,"s":"Entrenamiento"},{"t":945200,"v":220,"s":"Entrenamiento"},{"t":946100,"v":140,"s":"Entrenamiento"},{"t":947900,"v":122,"s":"Entrenamiento"},
{"t":999100,"v":120,"s":"Entrenamiento"},{"t":1000900,"v":140,"s":"Entrenamiento"},{"t":1004400,"v":200,"s":"Entrenamiento"},{"t":1008000,"v":280,"s":"Entrenamiento"},{"t":1009700,"v":300,"s":"Entrenamiento"},{"t":1012400,"v":260,"s":"Entrenamiento"},{"t":1015000,"v":250,"s":"Entrenamiento"},{"t":1018600,"v":215,"s":"Entrenamiento"},{"t":1023000,"v":205,"s":"Entrenamiento"},{"t":1024800,"v":200,"s":"Entrenamiento"},{"t":1025600,"v":140,"s":"Entrenamiento"},{"t":1027400,"v":122,"s":"Entrenamiento"},
{"t":1084900,"v":120,"s":"Entrenamiento"},{"t":1086700,"v":250,"s":"Entrenamiento"},{"t":1089300,"v":245,"s":"Entrenamiento"},{"t":1092000,"v":250,"s":"Entrenamiento"},{"t":1094600,"v":280,"s":"Entrenamiento"},{"t":1097300,"v":262,"s":"Entrenamiento"},{"t":1100800,"v":215,"s":"Entrenamiento"},{"t":1103500,"v":230,"s":"Entrenamiento"},{"t":1106100,"v":225,"s":"Entrenamiento"},{"t":1107000,"v":140,"s":"Entrenamiento"},{"t":1108800,"v":122,"s":"Entrenamiento"},
{"t":1167100,"v":120,"s":"Entrenamiento"},{"t":1168900,"v":140,"s":"Entrenamiento"},{"t":1171500,"v":185,"s":"Entrenamiento"},{"t":1174200,"v":200,"s":"Entrenamiento"},{"t":1177700,"v":210,"s":"Entrenamiento"},{"t":1182100,"v":215,"s":"Entrenamiento"},{"t":1186600,"v":240,"s":"Entrenamiento"},{"t":1190100,"v":280,"s":"Entrenamiento"},{"t":1192800,"v":260,"s":"Entrenamiento"},{"t":1193600,"v":140,"s":"Entrenamiento"},{"t":1195400,"v":122,"s":"Entrenamiento"},
{"t":1252900,"v":120,"s":"Entrenamiento"},{"t":1254700,"v":200,"s":"Entrenamiento"},{"t":1257300,"v":215,"s":"Entrenamiento"},{"t":1260000,"v":230,"s":"Entrenamiento"},{"t":1262600,"v":245,"s":"Entrenamiento"},{"t":1265300,"v":235,"s":"Entrenamiento"},{"t":1267900,"v":225,"s":"Entrenamiento"},{"t":1270600,"v":205,"s":"Entrenamiento"},{"t":1273200,"v":195,"s":"Entrenamiento"},{"t":1276800,"v":190,"s":"Entrenamiento"},{"t":1279400,"v":185,"s":"Entrenamiento"},{"t":1280300,"v":140,"s":"Entrenamiento"},{"t":1282100,"v":122,"s":"Entrenamiento"},
{"t":1336900,"v":120,"s":"Entrenamiento"},{"t":1338700,"v":140,"s":"Entrenamiento"},{"t":1341300,"v":200,"s":"Entrenamiento"},{"t":1344000,"v":285,"s":"Entrenamiento"},{"t":1346600,"v":260,"s":"Entrenamiento"},{"t":1349300,"v":250,"s":"Entrenamiento"},{"t":1352800,"v":230,"s":"Entrenamiento"},{"t":1356300,"v":210,"s":"Entrenamiento"},{"t":1360800,"v":200,"s":"Entrenamiento"},{"t":1363400,"v":195,"s":"Entrenamiento"},{"t":1364300,"v":140,"s":"Entrenamiento"},{"t":1366100,"v":122,"s":"Entrenamiento"},
{"t":1420900,"v":120,"s":"Entrenamiento"},{"t":1422600,"v":220,"s":"Entrenamiento"},{"t":1425300,"v":240,"s":"Entrenamiento"},{"t":1428000,"v":200,"s":"Entrenamiento"},{"t":1430600,"v":245,"s":"Entrenamiento"},{"t":1434100,"v":245,"s":"Entrenamiento"},{"t":1436800,"v":200,"s":"Entrenamiento"},{"t":1439400,"v":170,"s":"Entrenamiento"},{"t":1442100,"v":210,"s":"Entrenamiento"},{"t":1444800,"v":180,"s":"Entrenamiento"},{"t":1445600,"v":140,"s":"Entrenamiento"},{"t":1447400,"v":122,"s":"Entrenamiento"},
{"t":1502200,"v":120,"s":"Entrenamiento"},{"t":1504000,"v":160,"s":"Entrenamiento"},{"t":1506600,"v":200,"s":"Entrenamiento"},{"t":1510200,"v":210,"s":"Entrenamiento"},{"t":1513700,"v":240,"s":"Entrenamiento"},{"t":1518100,"v":255,"s":"Entrenamiento"},{"t":1522600,"v":260,"s":"Entrenamiento"},{"t":1526100,"v":255,"s":"Entrenamiento"},{"t":1528800,"v":250,"s":"Entrenamiento"},{"t":1529600,"v":140,"s":"Entrenamiento"},{"t":1531400,"v":122,"s":"Entrenamiento"},
{"t":1586200,"v":120,"s":"Entrenamiento"},{"t":1588900,"v":190,"s":"Entrenamiento"},{"t":1591500,"v":200,"s":"Entrenamiento"},{"t":1594200,"v":195,"s":"Entrenamiento"},{"t":1596800,"v":250,"s":"Entrenamiento"},{"t":1599500,"v":185,"s":"Entrenamiento"},{"t":1602100,"v":180,"s":"Entrenamiento"},{"t":1605700,"v":175,"s":"Entrenamiento"},{"t":1609200,"v":175,"s":"Entrenamiento"},{"t":1611000,"v":260,"s":"Entrenamiento"},{"t":1611900,"v":140,"s":"Entrenamiento"},{"t":1613600,"v":122,"s":"Entrenamiento"},
{"t":1671100,"v":120,"s":"Entrenamiento"},{"t":1672900,"v":170,"s":"Entrenamiento"},{"t":1676400,"v":175,"s":"Entrenamiento"},{"t":1679900,"v":190,"s":"Entrenamiento"},{"t":1684400,"v":200,"s":"Entrenamiento"},{"t":1687000,"v":265,"s":"Entrenamiento"},{"t":1690600,"v":255,"s":"Entrenamiento"},{"t":1694100,"v":250,"s":"Entrenamiento"},{"t":1695900,"v":250,"s":"Entrenamiento"},{"t":1696700,"v":140,"s":"Entrenamiento"},{"t":1698500,"v":122,"s":"Entrenamiento"},{"t":1750000,"v":120,"s":"Entrenamiento"},
{"t":1750000,"v":120,"s":"Test"},{"t":1752500,"v":120,"s":"Test"},{"t":1754200,"v":150,"s":"Test"},{"t":1756900,"v":230,"s":"Test"},{"t":1758600,"v":270,"s":"Test"},{"t":1761300,"v":230,"s":"Test"},{"t":1764000,"v":200,"s":"Test"},{"t":1766600,"v":185,"s":"Test"},{"t":1769300,"v":205,"s":"Test"},{"t":1771900,"v":210,"s":"Test"},{"t":1774600,"v":200,"s":"Test"},{"t":1776300,"v":215,"s":"Test"},{"t":1777200,"v":140,"s":"Test"},{"t":1779000,"v":122,"s":"Test"},
{"t":1836500,"v":120,"s":"Test"},{"t":1838200,"v":160,"s":"Test"},{"t":1840900,"v":250,"s":"Test"},{"t":1843500,"v":260,"s":"Test"},{"t":1845300,"v":305,"s":"Test"},{"t":1848000,"v":200,"s":"Test"},{"t":1850600,"v":240,"s":"Test"},{"t":1854100,"v":250,"s":"Test"},{"t":1858600,"v":250,"s":"Test"},{"t":1862100,"v":245,"s":"Test"},{"t":1863000,"v":140,"s":"Test"},{"t":1864700,"v":122,"s":"Test"},
{"t":1920400,"v":120,"s":"Test"},{"t":1922200,"v":160,"s":"Test"},{"t":1924800,"v":200,"s":"Test"},{"t":1927500,"v":210,"s":"Test"},{"t":1931000,"v":275,"s":"Test"},{"t":1933700,"v":250,"s":"Test"},{"t":1936300,"v":260,"s":"Test"},{"t":1938100,"v":230,"s":"Test"},{"t":1940800,"v":210,"s":"Test"},{"t":1942500,"v":205,"s":"Test"},{"t":1943400,"v":140,"s":"Test"},{"t":1945200,"v":122,"s":"Test"},
{"t":2001800,"v":120,"s":"Test"},{"t":2003500,"v":140,"s":"Test"},{"t":2007100,"v":260,"s":"Test"},{"t":2010600,"v":250,"s":"Test"},{"t":2013300,"v":273,"s":"Test"},{"t":2015900,"v":245,"s":"Test"},{"t":2019500,"v":240,"s":"Test"},{"t":2023000,"v":225,"s":"Test"},{"t":2025600,"v":215,"s":"Test"},{"t":2026500,"v":140,"s":"Test"},{"t":2028300,"v":122,"s":"Test"},
{"t":2084000,"v":120,"s":"Test"},{"t":2086700,"v":150,"s":"Test"},{"t":2089300,"v":200,"s":"Test"},{"t":2092000,"v":215,"s":"Test"},{"t":2095500,"v":225,"s":"Test"},{"t":2099000,"v":240,"s":"Test"},{"t":2102600,"v":250,"s":"Test"},{"t":2106100,"v":245,"s":"Test"},{"t":2109600,"v":245,"s":"Test"},{"t":2110500,"v":140,"s":"Test"},{"t":2112300,"v":122,"s":"Test"},
{"t":2170700,"v":120,"s":"Test"},{"t":2173300,"v":200,"s":"Test"},{"t":2176800,"v":250,"s":"Test"},{"t":2181300,"v":240,"s":"Test"},{"t":2183900,"v":338,"s":"Test"},{"t":2186600,"v":260,"s":"Test"},{"t":2189200,"v":200,"s":"Test"},{"t":2191900,"v":240,"s":"Test"},{"t":2194500,"v":195,"s":"Test"},{"t":2195400,"v":140,"s":"Test"},{"t":2197200,"v":122,"s":"Test"},
{"t":2252000,"v":120,"s":"Test"},{"t":2253800,"v":170,"s":"Test"},{"t":2256400,"v":286,"s":"Test"},{"t":2259100,"v":255,"s":"Test"},{"t":2261700,"v":240,"s":"Test"},{"t":2264400,"v":220,"s":"Test"},{"t":2267000,"v":190,"s":"Test"},{"t":2269700,"v":215,"s":"Test"},{"t":2272300,"v":180,"s":"Test"},{"t":2275000,"v":250,"s":"Test"},{"t":2277600,"v":240,"s":"Test"},{"t":2278500,"v":140,"s":"Test"},{"t":2280300,"v":122,"s":"Test"},{"t":2336000,"v":120,"s":"Test"},
{"t":2336000,"v":120,"s":"Validación"},{"t":2342200,"v":120,"s":"Validación"},{"t":2343100,"v":140,"s":"Validación"},{"t":2344800,"v":200,"s":"Validación"},{"t":2346600,"v":275,"s":"Validación"},{"t":2349300,"v":210,"s":"Validación"},{"t":2351900,"v":255,"s":"Validación"},{"t":2353700,"v":265,"s":"Validación"},{"t":2356300,"v":250,"s":"Validación"},{"t":2359000,"v":225,"s":"Validación"},{"t":2359900,"v":140,"s":"Validación"},{"t":2361600,"v":122,"s":"Validación"},
{"t":2422700,"v":120,"s":"Validación"},{"t":2424400,"v":170,"s":"Validación"},{"t":2427100,"v":205,"s":"Validación"},{"t":2429700,"v":240,"s":"Validación"},{"t":2432400,"v":230,"s":"Validación"},{"t":2435000,"v":220,"s":"Validación"},{"t":2438600,"v":205,"s":"Validación"},{"t":2442100,"v":200,"s":"Validación"},{"t":2445600,"v":195,"s":"Validación"},{"t":2446500,"v":140,"s":"Validación"},{"t":2448300,"v":122,"s":"Validación"},
{"t":2506800,"v":120,"s":"Validación"},{"t":2508500,"v":150,"s":"Validación"},{"t":2511200,"v":190,"s":"Validación"},{"t":2514700,"v":250,"s":"Validación"},{"t":2518200,"v":265,"s":"Validación"},{"t":2521800,"v":255,"s":"Validación"},{"t":2525300,"v":230,"s":"Validación"},{"t":2528900,"v":250,"s":"Validación"},{"t":2530600,"v":240,"s":"Validación"},{"t":2531500,"v":140,"s":"Validación"},{"t":2533300,"v":122,"s":"Validación"},
{"t":2592500,"v":120,"s":"Validación"},{"t":2595200,"v":175,"s":"Validación"},{"t":2598700,"v":220,"s":"Validación"},{"t":2601400,"v":230,"s":"Validación"},{"t":2604000,"v":245,"s":"Validación"},{"t":2606700,"v":255,"s":"Validación"},{"t":2610200,"v":240,"s":"Validación"},{"t":2612000,"v":245,"s":"Validación"},{"t":2612900,"v":140,"s":"Validación"},{"t":2614600,"v":122,"s":"Validación"},
{"t":2676400,"v":120,"s":"Validación"},{"t":2679100,"v":180,"s":"Validación"},{"t":2682600,"v":220,"s":"Validación"},{"t":2685300,"v":240,"s":"Validación"},{"t":2687900,"v":250,"s":"Validación"},{"t":2690600,"v":230,"s":"Validación"},{"t":2693200,"v":240,"s":"Validación"},{"t":2694100,"v":140,"s":"Validación"},{"t":2695900,"v":122,"s":"Validación"},
{"t":2758600,"v":120,"s":"Validación"},{"t":2761300,"v":150,"s":"Validación"},{"t":2764800,"v":175,"s":"Validación"},{"t":2769300,"v":205,"s":"Validación"},{"t":2773700,"v":215,"s":"Validación"},{"t":2776300,"v":210,"s":"Validación"},{"t":2779000,"v":200,"s":"Validación"},{"t":2780800,"v":195,"s":"Validación"},{"t":2781600,"v":140,"s":"Validación"},{"t":2783400,"v":122,"s":"Validación"},
{"t":2841800,"v":120,"s":"Validación"},{"t":2844400,"v":130,"s":"Validación"},{"t":2847100,"v":175,"s":"Validación"},{"t":2850600,"v":200,"s":"Validación"},{"t":2853300,"v":225,"s":"Validación"},{"t":2857700,"v":245,"s":"Validación"},{"t":2860300,"v":220,"s":"Validación"},{"t":2863000,"v":265,"s":"Validación"},{"t":2865600,"v":250,"s":"Validación"}
],
"nota_entrada": [{"t": 3000000, "v": -200, "txt": "x 10⁶"}],
"nota_salida": [{"t": 2866000, "v": 100, "txt": "x 10⁶"}]
},
"vconcat": [
{
 "title": "Variable de entrada",
 "width": 1080, "height": 140,
 "layer": [
  {
   "data": {"name": "entrada"},
   "mark": {"type": "line", "strokeWidth": 1, "clip": true},
   "encoding": {
    "x": {"field": "t", "type": "quantitative", "scale": {"domain": [0, 3000000], "nice": false, "zero": false},
          "axis": {"orient": "bottom", "values": [0, 500000, 1000000, 1500000, 2000000, 2500000, 3000000], "labelExpr": "'' + datum.value / 1000000", "title": "tiempo [s]", "grid": true}},
    "y": {"field": "v", "type": "quantitative", "scale": {"domain": [-200, 200], "nice": false, "zero": false},
          "axis": {"orient": "left", "values": [-200, -100, 0, 100, 200], "labelExpr": "'' + datum.value", "title": "e [°C]", "grid": true}},
    "color": {"field": "s", "type": "nominal", "scale": {"domain": ["Entrenamiento", "Test", "Validación"], "range": ["#1414c4", "#d41c1c", "#30dc30"]},
              "legend": {"title": null, "encode": {"symbols": {"update": {"stroke": {"signal": "datum.value === 'Test' ? '#c01818' : datum.value === 'Validación' ? '#2ed02e' : '#2a2a9a'"}, "strokeWidth": {"value": 1}}}}}}
   }
  },
  {
   "data": {"name": "nota_entrada"},
   "mark": {"type": "text", "align": "right", "baseline": "middle", "dy": 34, "dx": -3, "fontSize": 12, "font": "Liberation Sans", "color": "#000"},
   "encoding": {
    "x": {"field": "t", "type": "quantitative", "axis": {"orient": "top", "values": [0, 500000, 1000000, 1500000, 2000000, 2500000, 3000000], "labels": false, "grid": false, "title": null}},
    "y": {"field": "v", "type": "quantitative", "axis": {"orient": "right", "values": [-200, -100, 0, 100, 200], "labels": false, "grid": false, "title": null}},
    "text": {"field": "txt"}
   }
  }
 ],
 "resolve": {"axis": {"x": "independent", "y": "independent"}}
},
{
 "title": "Variable de salida",
 "width": 1080, "height": 139,
 "layer": [
  {
   "data": {"name": "salida"},
   "mark": {"type": "line", "strokeWidth": 1, "clip": true},
   "encoding": {
    "x": {"field": "t", "type": "quantitative", "scale": {"domain": [0, 2866000], "nice": false, "zero": false},
          "axis": {"orient": "bottom", "values": [0, 500000, 1000000, 1500000, 2000000, 2500000], "labelExpr": "'' + datum.value / 1000000", "title": "tiempo [s]", "grid": true}},
    "y": {"field": "v", "type": "quantitative", "scale": {"domain": [100, 339], "nice": false, "zero": false},
          "axis": {"orient": "left", "values": [100, 150, 200, 250, 300], "labelExpr": "'' + datum.value", "title": "Tₒᵤₜ [°C]", "grid": true}},
    "color": {"field": "s", "type": "nominal", "scale": {"domain": ["Entrenamiento", "Test", "Validación"], "range": ["#1414c4", "#d41c1c", "#30dc30"]},
              "legend": {"title": null, "encode": {"symbols": {"update": {"stroke": {"signal": "datum.value === 'Test' ? '#c01818' : datum.value === 'Validación' ? '#2ed02e' : '#2a2a9a'"}, "strokeWidth": {"value": 1}}}}}}
   }
  },
  {
   "data": {"name": "nota_salida"},
   "mark": {"type": "text", "align": "right", "baseline": "middle", "dy": 34, "dx": -3, "fontSize": 12, "font": "Liberation Sans", "color": "#000"},
   "encoding": {
    "x": {"field": "t", "type": "quantitative", "axis": {"orient": "top", "values": [0, 500000, 1000000, 1500000, 2000000, 2500000], "labels": false, "grid": false, "title": null}},
    "y": {"field": "v", "type": "quantitative", "axis": {"orient": "right", "values": [100, 150, 200, 250, 300], "labels": false, "grid": false, "title": null}},
    "text": {"field": "txt"}
   }
  }
 ],
 "resolve": {"axis": {"x": "independent", "y": "independent"}}
}
]
}
